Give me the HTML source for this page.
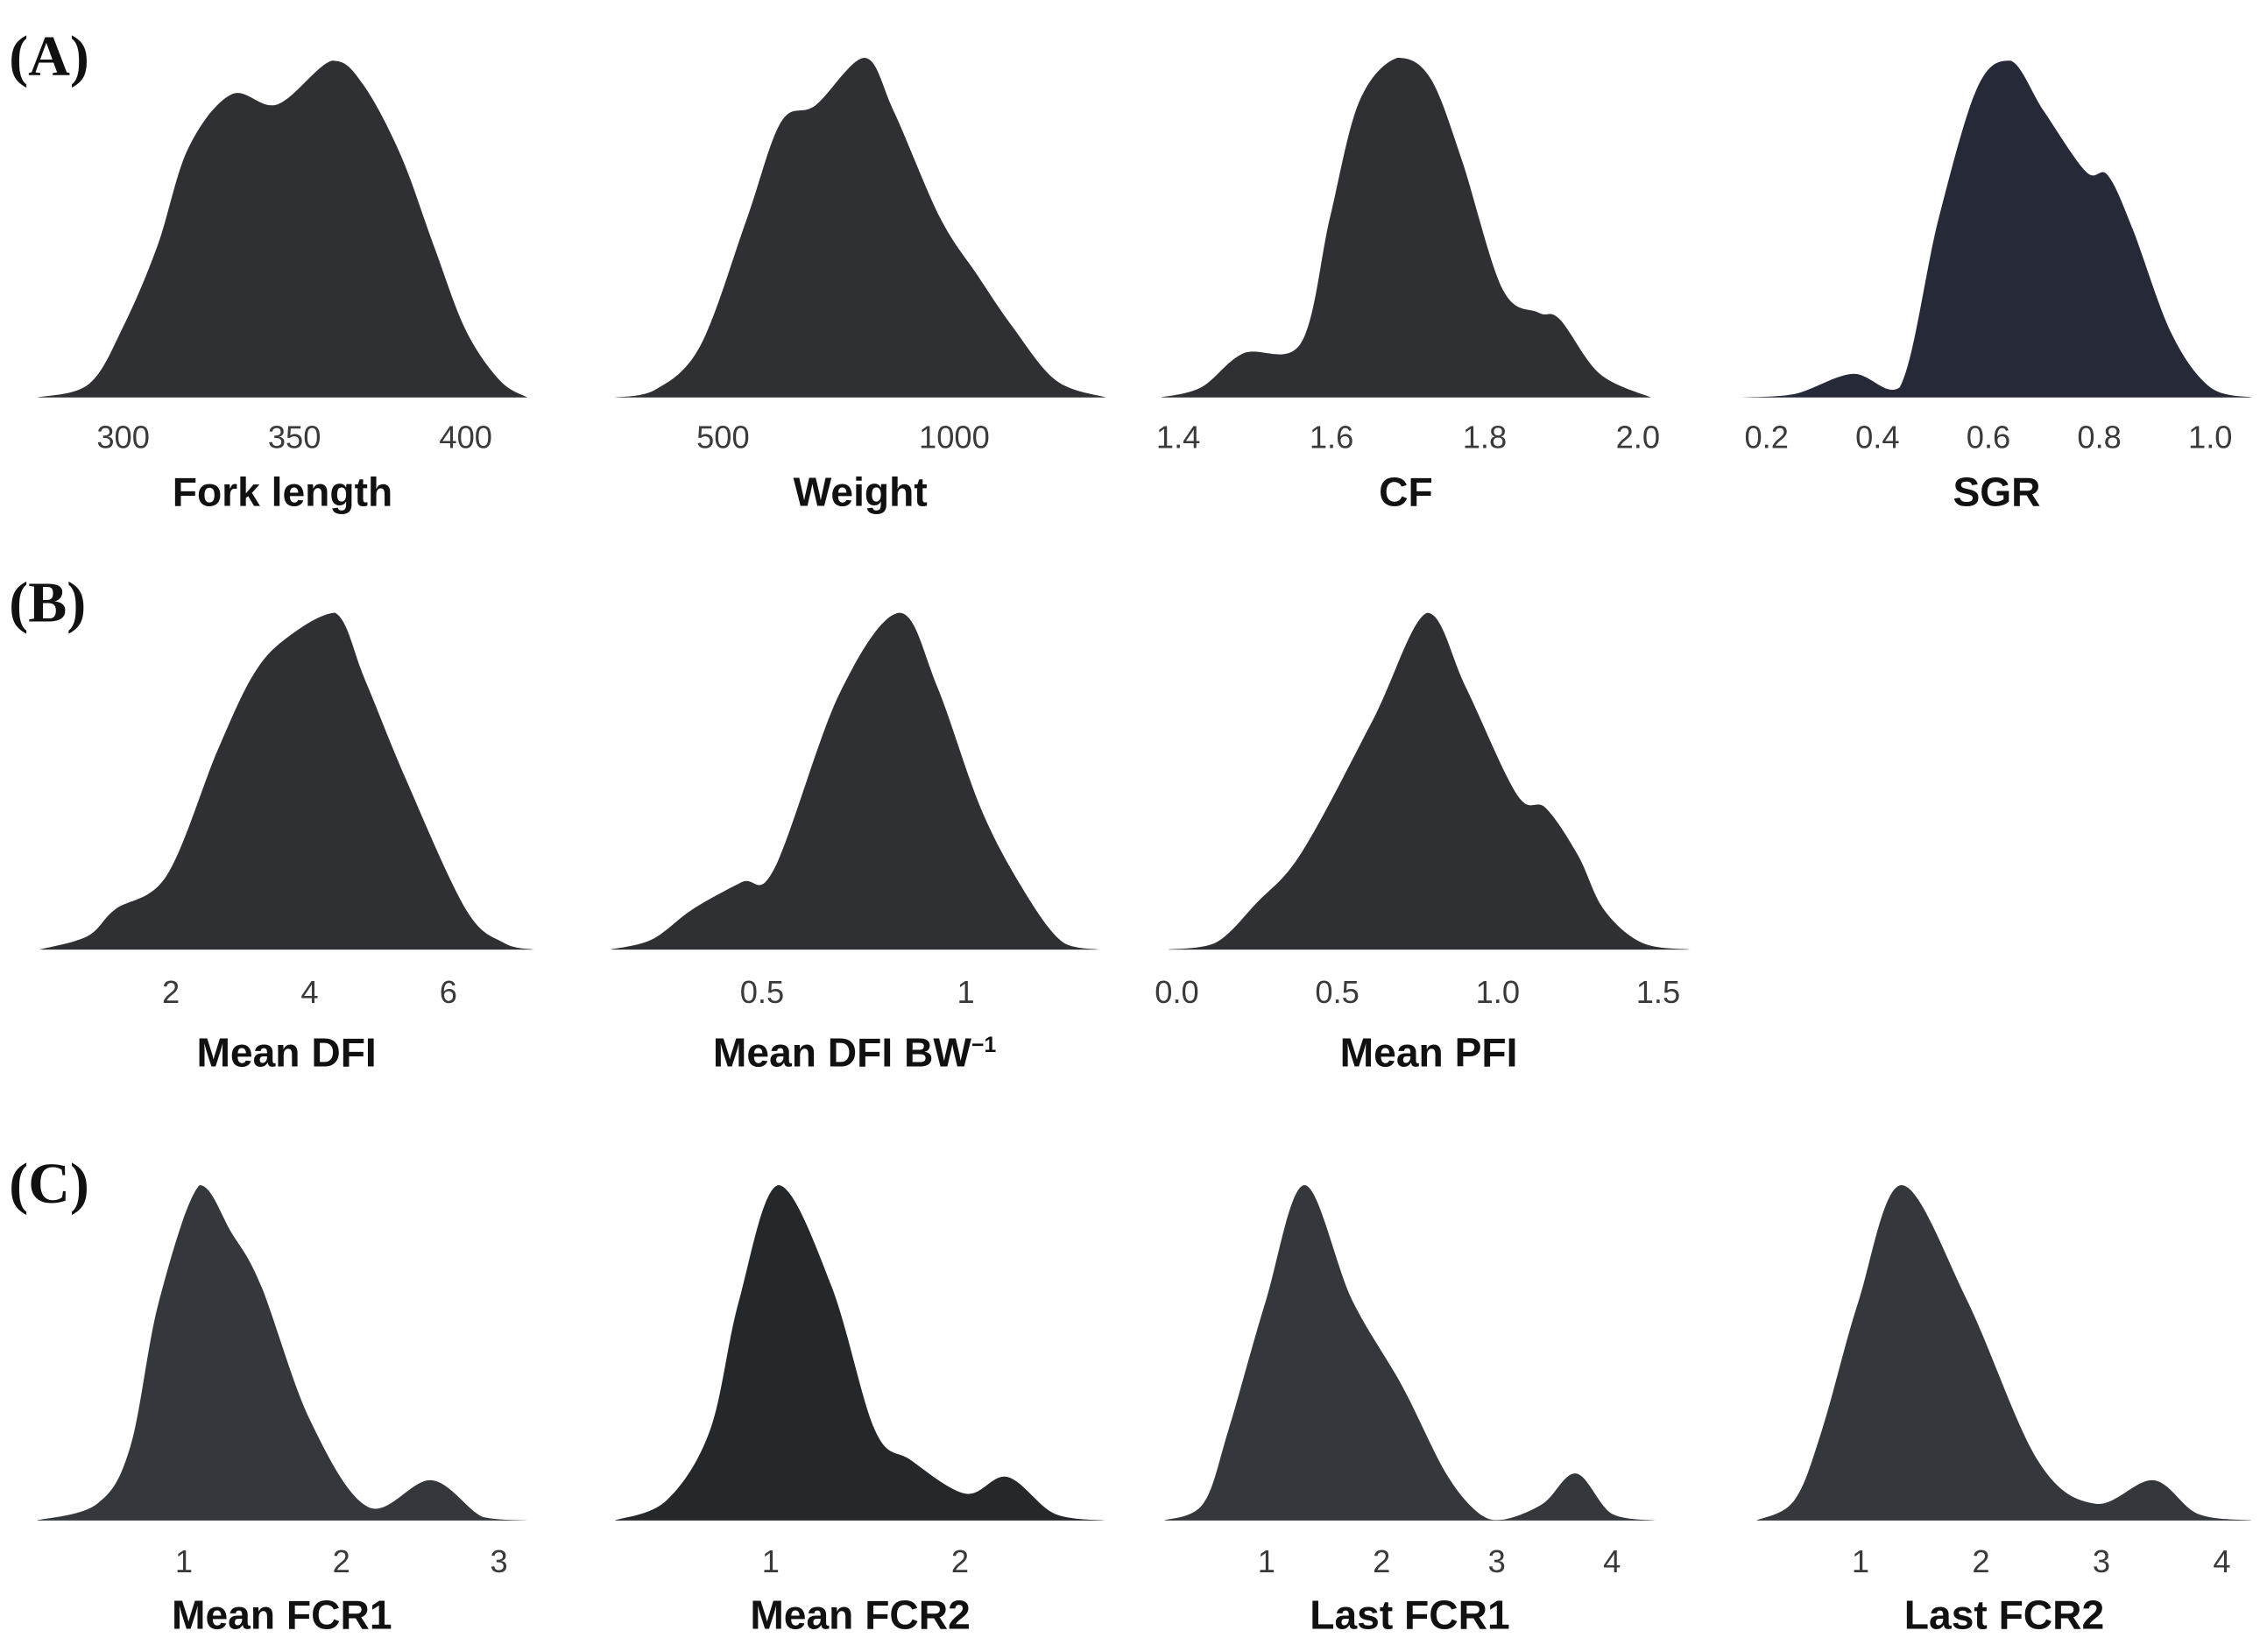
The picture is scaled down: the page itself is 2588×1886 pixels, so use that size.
<!DOCTYPE html>
<html><head><meta charset="utf-8"><style>
html,body{margin:0;padding:0;background:#fff}
svg{display:block}
.tick{font-family:"Liberation Sans",sans-serif;font-size:22px;fill:#3a3a3a;text-anchor:middle}
.ttl{font-family:"Liberation Sans",sans-serif;font-size:28px;font-weight:bold;fill:#111;text-anchor:middle}
.pl{font-family:"Liberation Serif",serif;font-size:40px;font-weight:bold;fill:#111}
</style></head><body>
<svg id="fig" width="2588" height="1886" viewBox="0 0 1568 1143" xmlns="http://www.w3.org/2000/svg">
<text class="pl" x="6" y="52">(A)</text>
<text class="pl" x="6" y="430">(B)</text>
<text class="pl" x="6" y="832">(C)</text>
</svg>
<script>
// ---- data (value, relative density) ----
const forkX=[275,290,300,310,319,331.6,345,361,370,381,390.7,400,410,418];
const forkY=[0,0.04,0.21,0.45,0.74,0.90,0.87,1.0,0.93,0.72,0.45,0.2,0.05,0];
const weightX=[266,350,450,550,625,700,806,870,969,1050,1125,1220,1328];
const weightY=[0,0.02,0.15,0.52,0.81,0.86,1.0,0.84,0.53,0.36,0.21,0.05,0];
const cfX=[1.377,1.43,1.485,1.56,1.598,1.636,1.686,1.729,1.77,1.823,1.87,1.898,1.95,2.017];
const cfY=[0,0.03,0.13,0.16,0.53,0.87,1.0,0.94,0.7,0.32,0.25,0.23,0.07,0];
const sgrX=[0.155,0.25,0.355,0.44,0.51,0.58,0.64,0.70,0.776,0.815,0.86,0.93,1.0,1.075];
const sgrY=[0,0.01,0.07,0.03,0.53,0.92,1.0,0.85,0.67,0.66,0.5,0.19,0.03,0];
const dfiX=[0.104,0.8,1.2,1.94,2.67,3.2,3.7,4.37,4.8,5.4,6.25,6.8,7.23];
const dfiY=[0,0.04,0.12,0.22,0.59,0.82,0.93,1.0,0.8,0.5,0.12,0.02,0];
const dfibwX=[0.128,0.23,0.33,0.45,0.53,0.69,0.837,0.93,1.04,1.15,1.24,1.326];
const dfibwY=[0,0.03,0.12,0.2,0.24,0.76,1.0,0.78,0.41,0.16,0.02,0];
const pfiX=[-0.03,0.12,0.25,0.39,0.61,0.78,0.9,1.06,1.15,1.25,1.33,1.45,1.6];
const pfiY=[0,0.02,0.14,0.29,0.68,1.0,0.78,0.46,0.42,0.28,0.12,0.02,0];
const fcr1X=[0.064,0.45,0.66,0.84,1.1,1.3,1.49,1.8,2.17,2.57,2.9,3.18];
const fcr1Y=[0,0.05,0.22,0.65,1.0,0.86,0.7,0.3,0.04,0.12,0.01,0];
const fcr2X=[0.176,0.45,0.68,0.83,1.04,1.32,1.55,1.74,2.03,2.25,2.5,2.77];
const fcr2Y=[0,0.06,0.27,0.65,1.0,0.70,0.27,0.18,0.08,0.13,0.02,0];
const last1X=[0.11,0.45,0.67,0.99,1.33,1.74,2.18,2.56,2.85,3.06,3.4,3.69,4.0,4.38];
const last1Y=[0,0.05,0.27,0.65,1.0,0.66,0.40,0.14,0.02,0.003,0.05,0.14,0.02,0];
const last2X=[0.136,0.45,0.68,0.98,1.34,1.88,2.47,2.95,3.43,3.8,4.25];
const last2Y=[0,0.06,0.27,0.65,1.0,0.66,0.18,0.05,0.12,0.02,0];
// ---- tick labels ----
const forkTicks=[300,350,400], weightTicks=[500,1000], cfTicks=["1.4","1.6","1.8","2.0"];
const sgrTicks=["0.2","0.4","0.6","0.8","1.0"], dfiTicks=[2,4,6], dfibwTicks=["0.5","1"];
const pfiTicks=["0.0","0.5","1.0","1.5"], fcr1Ticks=[1,2,3], fcr2Ticks=[1,2];
const last1Ticks=[1,2,3,4], last2Ticks=[1,2,3,4];

const NS="http://www.w3.org/2000/svg";
const svg=document.getElementById('fig');
function mk(t,a){const e=document.createElementNS(NS,t);for(const k in a)e.setAttribute(k,a[k]);return e;}
const panels=[
 ['fork-length',forkX,forkY,forkTicks,'Fork length',85,300,322,400,275,42,'#2e3033',302,340],
 ['weight',weightX,weightY,weightTicks,'Weight',500,500,660,1000,275,40,'#2e3033',302,340],
 ['cf',cfX,cfY,cfTicks,'CF',815,1.4,1133,2.0,275,40,'#2e3033',302,340],
 ['sgr',sgrX,sgrY,sgrTicks,'SGR',1222,0.2,1529,1.0,275,42,'#262a38',302,340],
 ['mean-dfi',dfiX,dfiY,dfiTicks,'Mean DFI',118,2,310,6,657,424,'#2e3033',686,728],
 ['mean-dfi-bw',dfibwX,dfibwY,dfibwTicks,'Mean DFI BW',527,0.5,668,1,657,424,'#2e3033',686,728],
 ['mean-pfi',pfiX,pfiY,pfiTicks,'Mean PFI',814,0,1147,1.5,657,424,'#2e3033',686,728],
 ['mean-fcr1',fcr1X,fcr1Y,fcr1Ticks,'Mean FCR1',127,1,345,3,1052,820,'#34373b',1080,1117],
 ['mean-fcr2',fcr2X,fcr2Y,fcr2Ticks,'Mean FCR2',533,1,664,2,1052,820,'#25282b',1080,1117],
 ['last-fcr1',last1X,last1Y,last1Ticks,'Last FCR1',876,1,1115,4,1052,820,'#34373b',1080,1117],
 ['last-fcr2',last2X,last2Y,last2Ticks,'Last FCR2',1287,1,1537,4,1052,820,'#34373b',1080,1117]
];
panels.forEach(p=>{
 const [nm,xs,ys,ticks,title,p0,d0,p1,d1,base,top,col,ty,tt]=p;
 const sx=v=>p0+(v-d0)*(p1-p0)/(d1-d0);
 const sy=v=>base-v*(base-top);
 const pts=xs.map((x,i)=>[sx(x),sy(ys[i])]);
 const cl=v=>Math.max(top,Math.min(base,v));
 let d=`M${pts[0][0]},${base} L${pts[0][0]},${pts[0][1]}`;
 for(let i=0;i<pts.length-1;i++){
  const a=pts[Math.max(0,i-1)],b=pts[i],c=pts[i+1],e=pts[Math.min(pts.length-1,i+2)];
  const c1=[b[0]+(c[0]-a[0])/6,b[1]+(c[1]-a[1])/6],c2=[c[0]-(e[0]-b[0])/6,c[1]-(e[1]-b[1])/6];
  d+=` C${c1[0]},${cl(c1[1])} ${c2[0]},${cl(c2[1])} ${c[0]},${c[1]}`;
 }
 d+=` L${pts[pts.length-1][0]},${base} Z`;
 const g=mk('g',{});
 
 
 const path=mk('path',{d:d,fill:col});
 
 
 g.appendChild(path);
 ticks.forEach(t=>{
  const tx=mk('text',{class:'tick',x:sx(parseFloat(t)),y:ty+8});
  
  
  tx.textContent=t;g.appendChild(tx);
 });
 const ti=mk('text',{class:'ttl',x:(pts[0][0]+pts[pts.length-1][0])/2,y:tt+10});
 
 
 ti.textContent=title;
 if(nm==='mean-dfi-bw'){const s=mk('tspan',{'font-size':'15','dy':'-10'});s.textContent='−1';ti.appendChild(s);}
 g.appendChild(ti);
 svg.appendChild(g);
});
</script>
</body></html>
